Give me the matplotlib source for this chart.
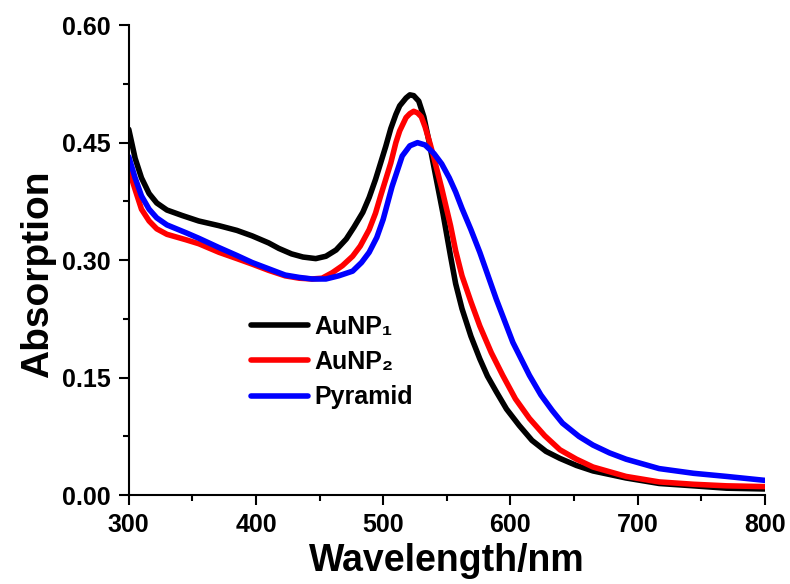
import matplotlib
matplotlib.use("Agg")
import matplotlib.pyplot as plt
from matplotlib.ticker import MultipleLocator, FormatStrFormatter

plt.rcParams['font.family'] = ['Liberation Sans', 'DejaVu Sans']
plt.rcParams['font.weight'] = 'bold'

# wavelength (nm) / absorption
wl_au1 = [300, 305, 310, 316, 322, 330, 342, 355, 371, 385, 397, 410, 418, 428, 437,
          447, 455, 463, 471, 477, 484, 489, 494, 498, 502, 506, 510, 513, 516, 518,
          521, 524, 528, 532, 536, 541, 547, 553, 557, 562, 569, 576, 582, 589, 597,
          607, 617, 628, 639, 652, 665, 691, 717, 744, 770, 800]
abs_au1 = [0.467, 0.430, 0.405, 0.385, 0.373, 0.364, 0.357, 0.350, 0.344, 0.338, 0.331, 0.322,
           0.315, 0.308, 0.304, 0.302, 0.305, 0.313, 0.327, 0.342, 0.361, 0.380, 0.403, 0.424,
           0.445, 0.468, 0.486, 0.497, 0.503, 0.507, 0.511, 0.510, 0.503, 0.483, 0.452,
           0.410, 0.360, 0.305, 0.270, 0.238, 0.203, 0.174, 0.152, 0.132, 0.110, 0.089,
           0.070, 0.056, 0.047, 0.038, 0.031, 0.022, 0.015, 0.012, 0.009, 0.008]

wl_au2 = [300, 305, 310, 316, 322, 330, 345, 355, 371, 385, 397, 410, 423, 434, 444,
          452, 460, 468, 476, 482, 489, 494, 498, 502, 506, 510, 513, 518, 521, 524,
          527, 530, 533, 537, 540, 546, 553, 557, 562, 569, 576, 585, 594, 604, 615,
          627, 639, 652, 665, 691, 717, 744, 770, 800]
abs_au2 = [0.416, 0.390, 0.365, 0.350, 0.340, 0.333, 0.326, 0.321, 0.310, 0.302, 0.295, 0.287,
           0.280, 0.277, 0.276, 0.277, 0.284, 0.293, 0.305, 0.318, 0.339, 0.360, 0.382, 0.403,
           0.424, 0.450, 0.465, 0.482, 0.487, 0.490, 0.488, 0.483, 0.470, 0.448, 0.430,
           0.392, 0.344, 0.312, 0.280, 0.247, 0.216, 0.182, 0.153, 0.123, 0.098, 0.076,
           0.058, 0.046, 0.036, 0.024, 0.017, 0.014, 0.012, 0.011]

wl_pyr = [300, 305, 310, 316, 322, 330, 345, 355, 371, 385, 397, 410, 423, 434, 444,
          455, 465, 476, 483, 489, 495, 500, 507, 515, 521, 527, 533, 540, 546, 552,
          557, 562, 569, 576, 589, 602, 615, 624, 633, 641, 654, 665, 678, 691, 717,
          744, 770, 800]
abs_pyr = [0.432, 0.405, 0.382, 0.365, 0.354, 0.345, 0.335, 0.328, 0.316, 0.306, 0.297, 0.289,
           0.281, 0.278, 0.276, 0.276, 0.280, 0.286, 0.297, 0.310, 0.329, 0.352, 0.394, 0.433,
           0.446, 0.450, 0.447, 0.436, 0.423, 0.405, 0.387, 0.366, 0.339, 0.310, 0.250,
           0.195, 0.153, 0.128, 0.108, 0.092, 0.075, 0.064, 0.054, 0.046, 0.034, 0.028,
           0.024, 0.019]

fig = plt.figure(figsize=(7.9, 5.84), dpi=100)
ax = fig.add_axes([0.163, 0.152, 0.805, 0.805])

kw = dict(lw=4, solid_joinstyle='round', solid_capstyle='round')
ax.plot(wl_au1, abs_au1, color='black', label='AuNP\u2081', **kw)
ax.plot(wl_au2, abs_au2, color='#ff0000', label='AuNP\u2082', **kw)
ax.plot(wl_pyr, abs_pyr, color='#0000ff', label='Pyramid', **kw)

ax.set_xlim(300, 800)
ax.set_ylim(0, 0.60)
ax.xaxis.set_major_locator(MultipleLocator(100))
ax.xaxis.set_minor_locator(MultipleLocator(50))
ax.yaxis.set_major_locator(MultipleLocator(0.15))
ax.yaxis.set_minor_locator(MultipleLocator(0.075))
ax.yaxis.set_major_formatter(FormatStrFormatter('%.2f'))

for side in ['top', 'right']:
    ax.spines[side].set_visible(False)
for side in ['left', 'bottom']:
    ax.spines[side].set_linewidth(1.5)

ax.tick_params(which='major', direction='out', length=7, width=1.5, labelsize=18, pad=6)
ax.tick_params(which='minor', direction='out', length=4, width=1.5)
for lbl in ax.get_xticklabels() + ax.get_yticklabels():
    lbl.set_fontweight('bold')

ax.set_xlabel('Wavelength/nm', fontsize=27, fontweight='bold', labelpad=4)
ax.set_ylabel('Absorption', fontsize=28, fontweight='bold', labelpad=4)
ax.yaxis.label.set_y(0.47)

ax.legend(loc='upper left', bbox_to_anchor=(0.172, 0.41), frameon=False,
          handlelength=2.3, handletextpad=0.25, labelspacing=0.45,
          borderpad=0, prop={'weight': 'bold', 'size': 18})

fig.savefig('out.png', dpi=100)
